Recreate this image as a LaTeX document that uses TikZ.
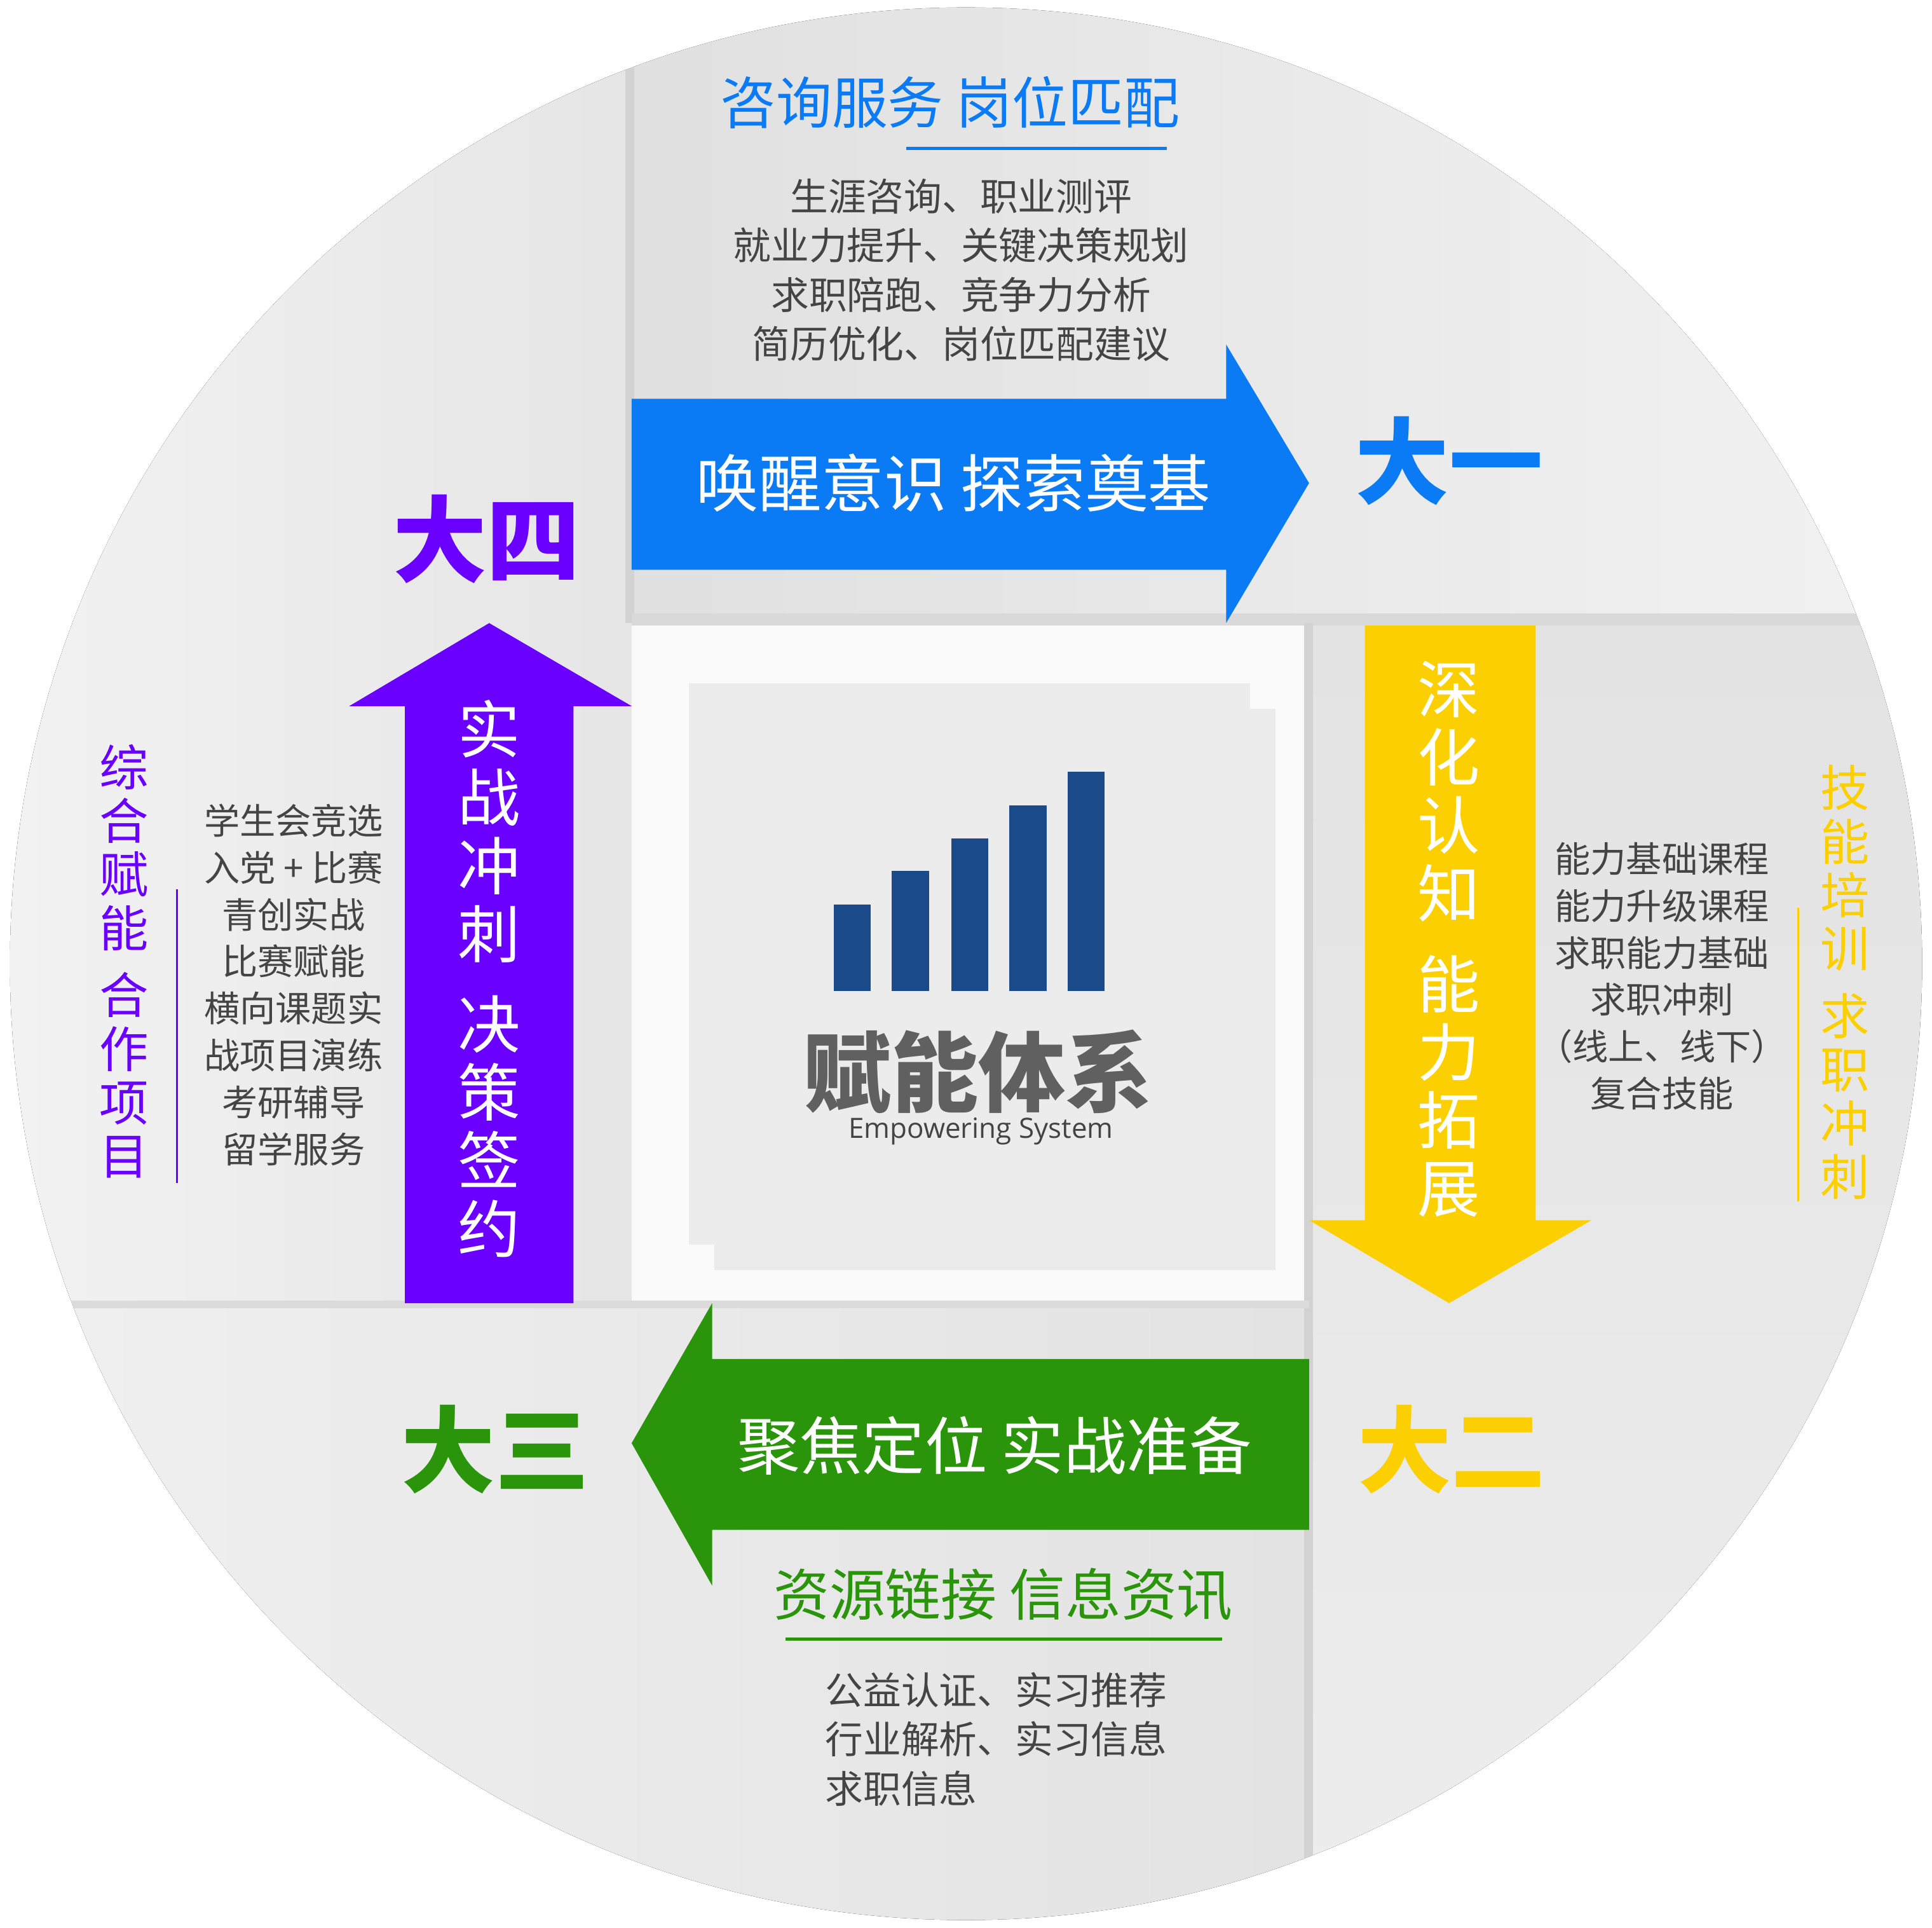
\documentclass[tikz,border=0pt]{standalone}
\usepackage{fontspec}
\setmainfont{Noto Sans CJK SC}
\newfontfamily\lat{Open Sans}
\usetikzlibrary{shadows}
\definecolor{cblue}{HTML}{0A7BF5}
\definecolor{cyel}{HTML}{FCD000}
\definecolor{cgreen}{HTML}{2A940A}
\definecolor{cpurp}{HTML}{6A00FF}
\definecolor{cbar}{HTML}{1A4A8A}
\definecolor{ctxt}{HTML}{444444}
\tikzset{
 body/.style={text=ctxt,font=\fontsize{17}{22}\selectfont,align=center},
 vt/.style={align=center,inner sep=0pt},
}
\begin{document}
\begin{tikzpicture}[x=0.01949cm,y=-0.01949cm]
\useasboundingbox (0,0) rectangle (1560,1556);
\begin{scope}
\clip (780,778) circle (772);
\fill[gray!16] (0,0) rectangle (1560,1556);
\fill[left color=gray!24,right color=gray!10] (510,0) rectangle (1560,503);
\fill[left color=gray!10,right color=gray!20] (0,0) rectangle (510,1052);
\fill[top color=gray!22,bottom color=gray!14] (1057,503) rectangle (1560,1556);
\fill[left color=gray!12,right color=gray!22] (0,1052) rectangle (1057,1556);
\fill[white!96!gray] (510,503) rectangle (1057,1052);
\fill[gray!35] (505,40) rectangle (512,503);
\fill[gray!30] (510,495) rectangle (1520,505);
\fill[gray!35] (1053,503) rectangle (1060,1510);
\fill[gray!28] (50,1050) rectangle (1057,1056);
\end{scope}
% center card
\node[fill=gray!15,minimum width=453*0.01949cm,minimum height=453*0.01949cm,drop shadow={shadow xshift=0.4cm,shadow yshift=-0.4cm,opacity=0.12}] (card) at (783,778) {};
\foreach \x/\t [count=\i] in {673/730,720/703,768/677,815/650,862/623}
  \fill[cbar] (\x,\t) rectangle (\x+30,800);
\node[text=ctxt!85,font=\fontsize{39}{40}\selectfont\bfseries] (title) at (790,865) {赋能体系};
\node[text=ctxt,font=\lat\fontsize{12.5}{14}\selectfont] (sub) at (792,913) {Empowering System};
% arrows
\fill[cblue] (510,322) -- (990,322) -- (990,278) -- (1057,390) -- (990,503) -- (990,460) -- (510,460) -- cycle;
\fill[cyel] (1102,505) -- (1240,505) -- (1240,985) -- (1285,985) -- (1170,1052) -- (1057,985) -- (1102,985) -- cycle;
\fill[cgreen] (1057,1097) -- (575,1097) -- (575,1052) -- (510,1165) -- (575,1280) -- (575,1235) -- (1057,1235) -- cycle;
\fill[cpurp] (327,1052) -- (327,570) -- (282,570) -- (395,503) -- (510,570) -- (463,570) -- (463,1052) -- cycle;
\node[text=white,font=\fontsize{28}{30}\selectfont] (a1) at (770,390) {唤醒意识 探索奠基};
\node[text=white,font=\fontsize{28}{30}\selectfont] (a3) at (803,1167) {聚焦定位 实战准备};
\node[text=white,font=\fontsize{28}{30.5}\selectfont,vt] (a2) at (1170,758) {深\\化\\认\\知\\[10pt]能\\力\\拓\\展};
\node[text=white,font=\fontsize{28}{30.5}\selectfont,vt] (a4) at (395,790) {实\\战\\冲\\刺\\[10pt]决\\策\\签\\约};
% year labels
\node[text=cblue,font=\fontsize{42}{44}\selectfont\bfseries] (y1) at (1170,372) {大一};
\node[text=cyel,font=\fontsize{42}{44}\selectfont\bfseries] (y2) at (1172,1170) {大二};
\node[text=cgreen,font=\fontsize{42}{44}\selectfont\bfseries] (y3) at (400,1170) {大三};
\node[text=cpurp,font=\fontsize{42}{44}\selectfont\bfseries] (y4) at (393,435) {大四};
% top
\node[text=cblue,font=\fontsize{25}{27}\selectfont] (t1) at (767,83) {咨询服务 岗位匹配};
\draw[cblue,line width=1.5pt] (732,120) -- (942,120);
\node[body] (b1) at (776,218) {生涯咨询、职业测评\\就业力提升、关键决策规划\\求职陪跑、竞争力分析\\简历优化、岗位匹配建议};
% bottom
\node[text=cgreen,font=\fontsize{25}{27}\selectfont] (t3) at (810,1287) {资源链接 信息资讯};
\draw[cgreen,line width=1.5pt] (634,1323) -- (987,1323);
\node[body,align=left,anchor=west] (b3) at (660,1404) {公益认证、实习推荐\\行业解析、实习信息\\求职信息};
% right
\node[body,font=\fontsize{16}{21}\selectfont] (b2) at (1342,788) {能力基础课程\\能力升级课程\\求职能力基础\\求职冲刺\\（线上、线下）\\复合技能};
\node[text=cyel,font=\fontsize{22}{24}\selectfont,vt] (s2) at (1490,793) {技\\能\\培\\训\\[6pt]求\\职\\冲\\刺};
\draw[cyel,line width=1pt] (1452,733) -- (1452,970);
% left
\node[body,font=\fontsize{16}{21}\selectfont] (b4) at (237,795) {学生会竞选\\入党 + 比赛\\青创实战\\比赛赋能\\横向课题实\\战项目演练\\考研辅导\\留学服务};
\node[text=cpurp,font=\fontsize{22}{24}\selectfont,vt] (s4) at (100,776) {综\\合\\赋\\能\\[6pt]合\\作\\项\\目};
\draw[cpurp,line width=1pt] (143,718) -- (143,955);
\end{tikzpicture}
\end{document}
